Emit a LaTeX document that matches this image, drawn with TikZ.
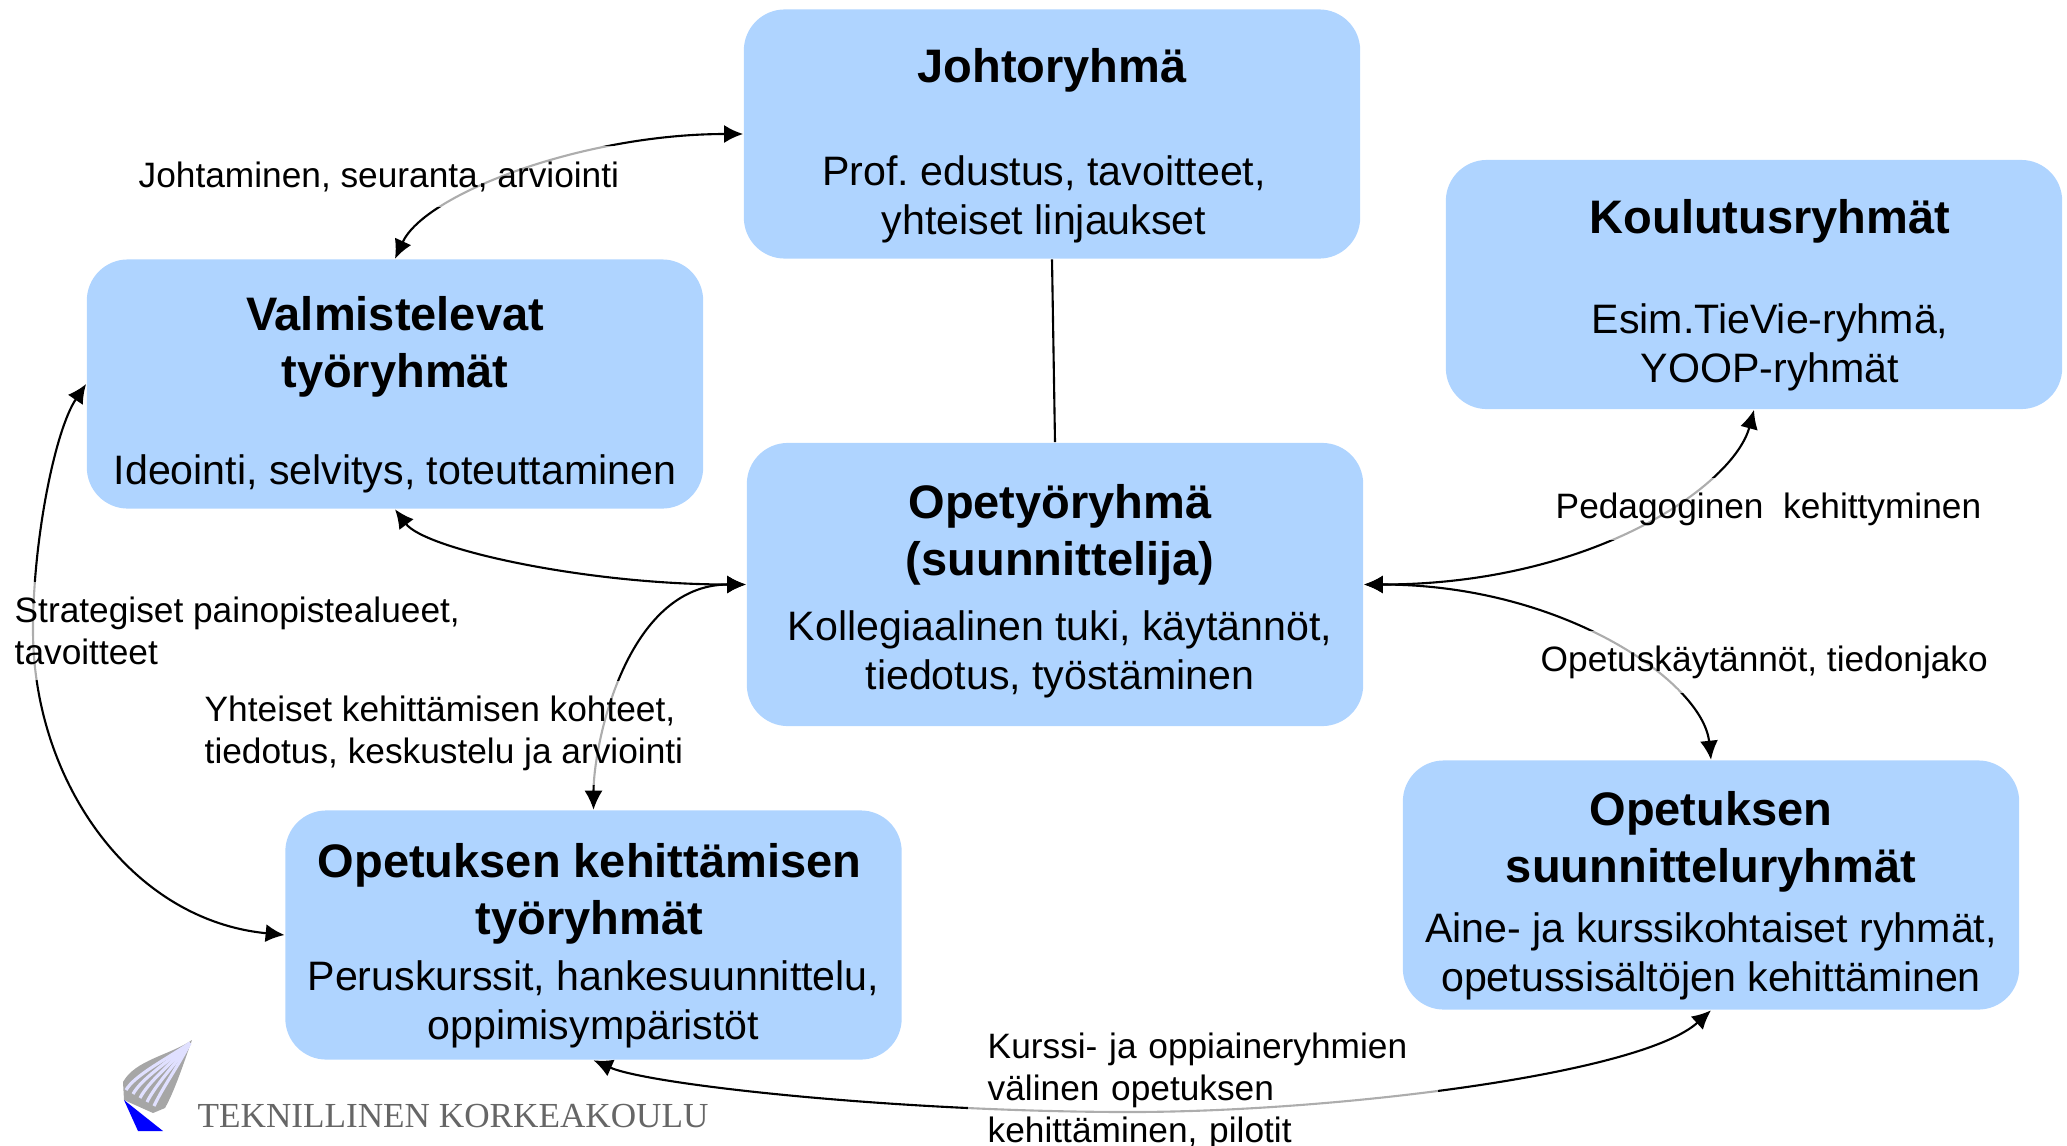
\documentclass[tikz,border=0pt]{standalone}
\usepackage{fontspec}
\setmainfont{Liberation Sans}
\newfontfamily\logofont{Liberation Serif}
\usetikzlibrary{arrows.meta}
\definecolor{boxblue}{HTML}{AFD4FF}
\newcommand{\grptitle}[1]{{\fontsize{13.37}{13.37}\selectfont\bfseries #1}}
\newcommand{\toppad}{\rule{0pt}{.56cm}}
\tikzset{
  grpbox/.style={fill=boxblue,rounded corners=.41cm,minimum width=6.16cm,minimum height=2.49cm,
    align=center,inner sep=0pt,font=\fontsize{11.7}{14.1}\selectfont},
  lbl/.style={anchor=west,align=left,fill=white,fill opacity=.68,text opacity=1,
    inner xsep=.2cm,inner ysep=.15cm,font=\fontsize{10.03}{11.95}\selectfont},
  conn/.style={line width=.6pt,{Latex[length=.19cm,width=.18cm]}-{Latex[length=.19cm,width=.18cm]}},
}
\begin{document}
\begin{tikzpicture}[x=.01cm,y=-.01cm]
  \useasboundingbox (0,0) rectangle (2067,1145);
  % groups
  \node[grpbox] (johto) at (1052,134) {\rule{0pt}{.58cm}\grptitle{Johtoryhmä}\\[.53cm] Prof.\ edustus, tavoitteet,\kern.16cm\\ yhteiset linjaukset\kern.16cm};
  \node[grpbox] (koulutus) at (1754,284.5) {\toppad\hspace*{.32cm}\grptitle{Koulutusryhmät}\\[.5cm] \hspace*{.32cm}Esim.TieVie-ryhmä,\\ \hspace*{.32cm}YOOP-ryhmät};
  \node[grpbox] (valm) at (395,384) {\toppad\grptitle{Valmistelevat}\\[2pt] \grptitle{työryhmät}\\[.48cm] Ideointi, selvitys, toteuttaminen};
  \node[grpbox,minimum height=2.83cm] (opetyo) at (1055,584.5) {\rule{0pt}{.48cm}\hspace*{.1cm}\grptitle{Opetyöryhmä}\\[2pt] \hspace*{.1cm}\grptitle{(suunnittelija)}\\[.15cm] \hspace*{.1cm}Kollegiaalinen tuki, käytännöt,\\ \hspace*{.1cm}tiedotus, työstäminen};
  \node[grpbox] (opkeh) at (593.5,935) {\toppad\grptitle{Opetuksen kehittämisen}\kern.08cm\\[2pt] \grptitle{työryhmät}\kern.08cm\\[.06cm] Peruskurssit, hankesuunnittelu,\\ oppimisympäristöt};
  \node[grpbox] (opsuun) at (1711,885) {\toppad\grptitle{Opetuksen}\\[2pt] \grptitle{suunnitteluryhmät}\\[.1cm] Aine- ja kurssikohtaiset ryhmät,\\ opetussisältöjen kehittäminen};
  % connectors
  \coordinate (leftbend) at (33,630);
  \coordinate (lowbend) at (1130,1112);
  \draw[line width=.6pt] (johto.south) -- (opetyo.north);
  \draw[conn] (johto.west) .. controls +(-160,0) and +(30,-65) .. (valm.north);
  \draw[conn] (valm.south) .. controls +(30,40) and +(-160,0) .. (opetyo.west);
  \draw[conn] (opetyo.west) .. controls +(-120,0) and +(0,-65) .. (opkeh.north);
  \draw[conn] (valm.west) .. controls (55,430) and (33,540) .. (leftbend) .. controls (33,780) and (130,920) .. (opkeh.west);
  \draw[conn] (opetyo.east) .. controls +(230,0) and +(-20,75) .. (koulutus.south);
  \draw[conn] (opetyo.east) .. controls +(200,0) and +(-8,-77) .. (opsuun.north);
  \draw[conn] (opkeh.south) .. controls (650,1085) and (900,1112) .. (lowbend) .. controls (1330,1112) and (1640,1075) .. (opsuun.south);
  % labels
  \node[lbl] (lblJohto) at (118,176.5) {Johtaminen, seuranta, arviointi};
  \node[lbl] (lblStrat) at (-6,631) {Strategiset painopistealueet,\\ tavoitteet};
  \node[lbl] (lblYht) at (184,733) {Yhteiset kehittämisen kohteet,\\ tiedotus, keskustelu ja arviointi};
  \node[lbl] (lblPed) at (1535,509) {Pedagoginen \ kehittyminen};
  \node[lbl] (lblOpet) at (1520,662) {Opetuskäytännöt, tiedonjako};
  \node[lbl,text width=4.3cm] (lblKurssi) at (967,1091) {Kurssi- ja oppiaineryhmien\\ välinen opetuksen\\ kehittäminen, pilotit};
  % logo
  \node[anchor=west,inner sep=0pt,text=black!60,font=\logofont\fontsize{10}{12}\selectfont] (tkk) at (197,1116) {TEKNILLINEN KORKEAKOULU};
  \fill[gray!70] (192,1040) .. controls (170,1055) and (135,1060) .. (123,1082) -- (124,1100) -- (153,1113) -- (165,1108) .. controls (175,1090) and (183,1065) .. (192,1040) -- cycle;
  \foreach \k in {0,1,2,3,4}
    \draw[blue!12!white,line width=.9pt] (126+\k*7,1090+\k*4) .. controls (135+\k*7,1075+\k*3) and (165+\k*3,1060+\k*2) .. (190,1043);
  \fill[blue] (124,1100) -- (163,1131) -- (138,1131) -- cycle;
\end{tikzpicture}
\end{document}
